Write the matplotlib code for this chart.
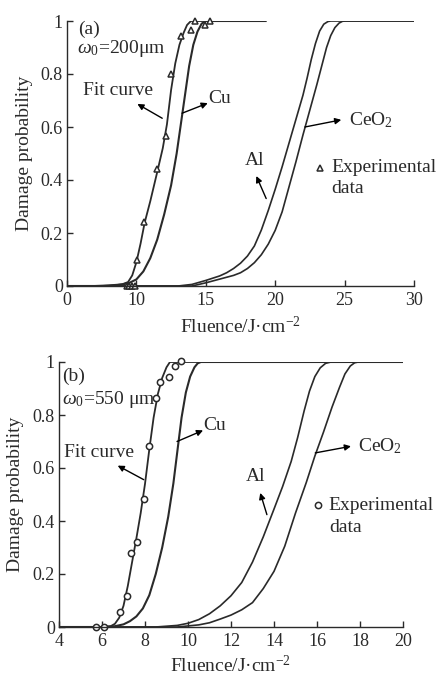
import matplotlib
matplotlib.use("Agg")
import matplotlib.pyplot as plt

plt.rcParams['font.family'] = ['Liberation Serif', 'DejaVu Serif']
plt.rcParams['mathtext.fontset'] = 'custom'
plt.rcParams['mathtext.rm'] = 'Liberation Serif'
plt.rcParams['mathtext.it'] = 'Liberation Serif:italic'

INK = '#2a2a2a'

# ---- panel (a), w0 = 200 um ----
# tick positions / labels as printed (first label reads "0")
a_ticks = [5, 10, 15, 20, 25, 30]
a_ticklabels = ['0', '10', '15', '20', '25', '30']

a_fit_x = [5, 7.5, 8.5, 9.0, 9.4, 9.7, 10.0, 10.3, 10.6, 11.0, 11.5, 11.9, 12.2, 12.5,
           12.8, 13.1, 13.4, 13.65, 13.93, 19.3]
a_fit_y = [0, 0, 0.003, 0.007, 0.015, 0.04, 0.09, 0.16, 0.24, 0.32, 0.43, 0.52, 0.61, 0.74,
           0.84, 0.91, 0.955, 0.985, 1.0, 1.0]

a_cu_x = [5, 7.0, 8.0, 9.0, 9.5, 10.0, 10.5, 11.0, 11.5, 12.0, 12.5, 12.9, 13.2, 13.5,
          13.8, 14.1, 14.4, 14.7, 15.0, 19.3]
a_cu_y = [0, 0, 0.002, 0.006, 0.012, 0.025, 0.055, 0.105, 0.175, 0.27, 0.38, 0.50, 0.61, 0.72,
          0.83, 0.91, 0.96, 0.99, 1.0, 1.0]

a_al_x = [5, 13.0, 14.0, 15.0, 16.0, 16.5, 17.0, 17.5, 18.0, 18.5, 19.0, 19.5, 20.0, 20.5,
          21.0, 21.5, 22.0, 22.3, 22.6, 22.9, 23.2, 23.5, 23.8, 24.0, 30]
a_al_y = [0, 0, 0.006, 0.021, 0.038, 0.05, 0.066, 0.086, 0.113, 0.151, 0.211, 0.285, 0.365, 0.45,
          0.54, 0.63, 0.72, 0.785, 0.855, 0.915, 0.962, 0.988, 0.998, 1.0, 1.0]

a_ceo2_x = [5, 14.0, 15.0, 16.0, 17.0, 17.5, 18.0, 18.5, 19.0, 19.5, 20.0, 20.5, 21.0, 21.5,
            22.0, 22.5, 23.0, 23.4, 23.7, 24.0, 24.3, 24.6, 24.85, 25.05, 30]
a_ceo2_y = [0, 0, 0.012, 0.026, 0.04, 0.05, 0.066, 0.088, 0.118, 0.158, 0.21, 0.28, 0.375, 0.47,
            0.57, 0.665, 0.76, 0.84, 0.90, 0.945, 0.975, 0.992, 0.999, 1.0, 1.0]

a_exp_x = [9.3, 9.5, 9.7, 9.9, 10.05, 10.55, 11.5, 12.15, 12.5, 13.2, 13.9, 14.25, 14.95, 15.3]
a_exp_y = [0, 0, 0, 0, 0.10, 0.24, 0.44, 0.565, 0.80, 0.945, 0.965, 1.0, 0.985, 1.0]

# ---- panel (b), w0 = 550 um ----
b_ticks = [4, 6, 8, 10, 12, 14, 16, 18, 20]
b_ticklabels = ['4', '6', '8', '10', '12', '14', '16', '18', '20']

b_fit_x = [4, 6.0, 6.4, 6.6, 6.8, 7.0, 7.2, 7.4, 7.6, 7.8, 8.0, 8.2, 8.4, 8.6, 8.8, 9.0, 9.16, 20]
b_fit_y = [0, 0, 0.003, 0.012, 0.035, 0.08, 0.155, 0.245, 0.335, 0.43, 0.54, 0.67, 0.79, 0.88,
           0.94, 0.98, 1.0, 1.0]

b_cu_x = [4, 6.0, 6.6, 7.0, 7.3, 7.6, 7.9, 8.2, 8.5, 8.8, 9.08, 9.32, 9.5, 9.7, 9.9, 10.1,
          10.3, 10.45, 10.6, 20]
b_cu_y = [0, 0, 0.003, 0.01, 0.022, 0.04, 0.07, 0.12, 0.2, 0.3, 0.416, 0.542, 0.66, 0.79, 0.885,
          0.945, 0.98, 0.995, 1.0, 1.0]

b_al_x = [4, 8.5, 9.5, 10.0, 10.5, 11.0, 11.5, 12.0, 12.5, 13.0, 13.5, 14.0, 14.4, 14.8, 15.1,
          15.4, 15.65, 15.9, 16.15, 16.4, 16.65, 20]
b_al_y = [0, 0, 0.006, 0.014, 0.028, 0.05, 0.08, 0.118, 0.168, 0.245, 0.34, 0.445, 0.53, 0.625,
          0.715, 0.815, 0.89, 0.945, 0.978, 0.995, 1.0, 1.0]

b_ceo2_x = [4, 9.5, 10.0, 10.5, 11.0, 11.5, 12.0, 12.5, 13.0, 13.5, 14.0, 14.5, 15.0, 15.5, 15.9,
            16.3, 16.7, 17.05, 17.3, 17.55, 17.75, 17.92, 20]
b_ceo2_y = [0, 0, 0.004, 0.008, 0.016, 0.03, 0.045, 0.065, 0.092, 0.145, 0.21, 0.305, 0.43, 0.545,
            0.645, 0.735, 0.83, 0.905, 0.955, 0.985, 0.997, 1.0, 1.0]

b_exp_x = [5.74, 6.11, 6.86, 7.15, 7.33, 7.65, 7.96, 8.18, 8.5, 8.72, 9.1, 9.4, 9.67]
b_exp_y = [0, 0, 0.058, 0.118, 0.28, 0.32, 0.483, 0.684, 0.864, 0.924, 0.945, 0.986, 1.005]

yticks = [0, 0.2, 0.4, 0.6, 0.8, 1]
yticklabels = ['0', '0.2', '0.4', '0.6', '0.8', '1']

fig = plt.figure(figsize=(4.48, 6.77), dpi=100)
ax_a = fig.add_axes([67/448, 1 - 286/677, 347/448, 265/677])
ax_b = fig.add_axes([59/448, 1 - 627/677, 344/448, 265/677])


def style(ax, xlim, ticks, ticklabels, ylabel_x, xpad):
    ax.set_xlim(*xlim)
    ax.set_ylim(0, 1)
    for s in ['top', 'right']:
        ax.spines[s].set_visible(False)
    for s in ['left', 'bottom']:
        ax.spines[s].set_color(INK)
        ax.spines[s].set_linewidth(1.0)
    ax.set_xticks(ticks)
    ax.set_xticklabels(ticklabels)
    ax.set_yticks(yticks)
    ax.set_yticklabels(yticklabels)
    ax.tick_params(direction='in', length=4, width=1, color=INK,
                   labelsize=13, labelcolor=INK)
    ax.tick_params(axis='x', pad=4)
    ax.tick_params(axis='y', pad=3)
    ax.set_xlabel('Fluence/J\u00b7cm$^{-2}$', fontsize=14, color=INK, labelpad=xpad)
    ax.set_ylabel('Damage probability', fontsize=14, color=INK)
    ax.yaxis.set_label_coords(ylabel_x, 0.5)


def arrow(ax, start, end):
    ax.annotate('', xy=end, xytext=start,
                arrowprops=dict(arrowstyle='-|>', color='black', lw=1.0,
                                mutation_scale=9, shrinkA=0, shrinkB=0))


tk = dict(fontsize=14, color=INK, va='center')

# panel (a)
ax = ax_a
for xs, ys, lw in [(a_al_x, a_al_y, 1.2), (a_ceo2_x, a_ceo2_y, 1.2),
                   (a_cu_x, a_cu_y, 1.5), (a_fit_x, a_fit_y, 1.3)]:
    ax.plot(xs, ys, color=INK, lw=lw, solid_joinstyle='round')
ax.plot(a_exp_x, a_exp_y, ls='none', marker='^', ms=4.5, mfc='white',
        mec=INK, mew=1.1, clip_on=False)
style(ax, (5, 30), a_ticks, a_ticklabels, -0.098, 5)
ax.text(5.8, 0.97, '(a)', **tk)
ax.text(5.7, 0.897, '$\\omega_0$=200\u03bcm', **tk)
ax.text(6.15, 0.737, 'Fit curve', **tk)
arrow(ax, (11.86, 0.633), (10.07, 0.687))
ax.text(15.2, 0.708, 'Cu', **tk)
arrow(ax, (13.29, 0.652), (15.14, 0.69))
ax.text(25.3, 0.624, 'CeO$_2$', **tk)
arrow(ax, (22.14, 0.60), (24.76, 0.627))
ax.text(17.8, 0.475, 'Al', **tk)
arrow(ax, (19.35, 0.33), (18.64, 0.415))
ax.plot([23.2], [0.447], ls='none', marker='^', ms=4.5, mfc='white',
        mec=INK, mew=1.1, clip_on=False)
ax.text(24.05, 0.447, 'Experimental', **tk)
ax.text(24.05, 0.369, 'data', **tk)

# panel (b)
ax = ax_b
for xs, ys, lw in [(b_al_x, b_al_y, 1.2), (b_ceo2_x, b_ceo2_y, 1.2),
                   (b_cu_x, b_cu_y, 1.5), (b_fit_x, b_fit_y, 1.3)]:
    ax.plot(xs, ys, color=INK, lw=lw, solid_joinstyle='round')
ax.plot(b_exp_x, b_exp_y, ls='none', marker='o', ms=4.5, mfc='white',
        mec=INK, mew=1.1, clip_on=False)
style(ax, (4, 20), b_ticks, b_ticklabels, -0.102, 3.5)
ax.text(4.15, 0.946, '(b)', **tk)
ax.text(4.15, 0.86, '$\\omega_0$=550 \u03bcm', **tk)
ax.text(4.25, 0.659, 'Fit curve', **tk)
arrow(ax, (7.94, 0.556), (6.73, 0.609))
ax.text(10.7, 0.76, 'Cu', **tk)
arrow(ax, (9.49, 0.70), (10.70, 0.742))
ax.text(17.9, 0.684, 'CeO$_2$', **tk)
arrow(ax, (15.92, 0.657), (17.58, 0.682))
ax.text(12.7, 0.569, 'Al', **tk)
arrow(ax, (13.67, 0.424), (13.36, 0.506))
ax.plot([16.03], [0.459], ls='none', marker='o', ms=4.5, mfc='white',
        mec=INK, mew=1.1, clip_on=False)
ax.text(16.55, 0.459, 'Experimental', **tk)
ax.text(16.55, 0.374, 'data', **tk)

fig.savefig('out.png', dpi=100)
